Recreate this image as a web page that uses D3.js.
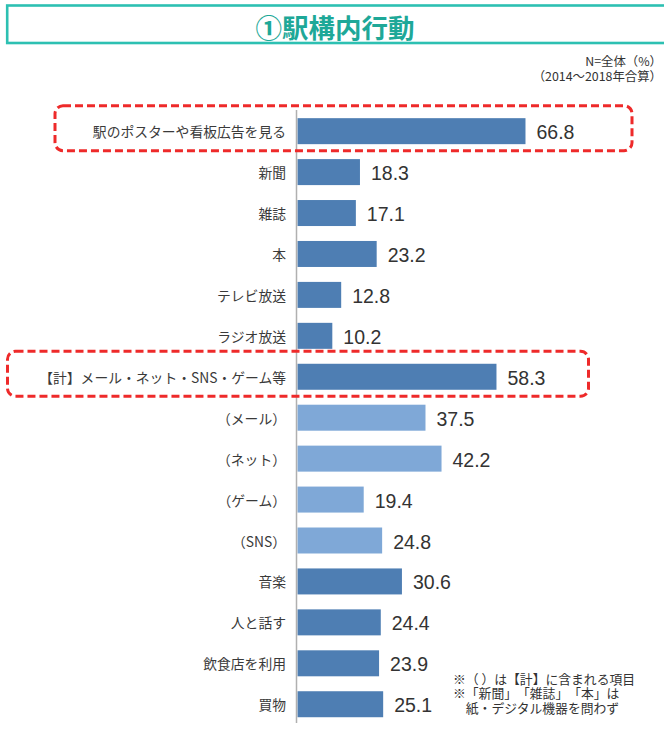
<!DOCTYPE html>
<html><head><meta charset="utf-8">
<script src="https://cdn.jsdelivr.net/npm/d3@7"></script>
<style>body{margin:0;background:#fff}svg{display:block}</style>
</head><body>
<svg id="c" width="664" height="742"></svg>
<script>
const categories = ["駅のポスターや看板広告を見る","新聞","雑誌","本","テレビ放送","ラジオ放送","【計】メール・ネット・SNS・ゲーム等","（メール）","（ネット）","（ゲーム）","（SNS）","音楽","人と話す","飲食店を利用","買物"];
const values = [66.8,18.3,17.1,23.2,12.8,10.2,58.3,37.5,42.2,19.4,24.8,30.6,24.4,23.9,25.1];
const subItem = [false,false,false,false,false,false,false,true,true,true,true,false,false,false,false];
const highlighted = ["駅のポスターや看板広告を見る","【計】メール・ネット・SNS・ゲーム等"];
const titleText = "①駅構内行動";
const noteTop = ["N=全体（%）","（2014～2018年合算）"];
const noteBottom = ["※（ ）は【計】に含まれる項目","※「新聞」「雑誌」「本」は","　紙・デジタル機器を問わず"];

const svg = d3.select("#c");
const font = "'Noto Sans CJK JP','Noto Sans',sans-serif";
const noTrim = s => s.style("text-spacing-trim","space-all");

// title box
svg.append("rect").attr("x",7.2).attr("y",5.5).attr("width",670).attr("height",37.5)
  .attr("fill","#fff").attr("stroke","#2dc0b2").attr("stroke-width",2.6);
svg.append("text").attr("x",335).attr("y",26).attr("text-anchor","middle").attr("dominant-baseline","central")
  .attr("font-family",font).attr("font-weight","bold").attr("font-size",26.5).attr("fill","#1ea898").call(noTrim).text(titleText);

svg.selectAll("text.nt").data(noteTop).enter().append("text").attr("class","nt")
  .attr("x",662).attr("y",(d,i)=>66+i*14.5).attr("text-anchor","end")
  .attr("font-family",font).attr("font-size",12.4).attr("fill","#333").call(noTrim).text(d=>d);

const x = d3.scaleLinear().domain([0,100]).range([297.5, 297.5+341.3]);
const y = d3.scaleBand().domain(categories).range([110.7,724.7]).paddingInner(0.365).paddingOuter(0.1825);

// bars
svg.selectAll("rect.bar").data(categories).enter().append("rect").attr("class","bar")
  .attr("x",x(0)).attr("y",d=>y(d)).attr("height",y.bandwidth())
  .attr("width",(d,i)=>x(values[i])-x(0))
  .attr("fill",(d,i)=>subItem[i]?"#7fa8d7":"#4e7eb3");

// axis line
svg.append("line").attr("x1",296.5).attr("x2",296.5).attr("y1",110).attr("y2",723)
  .attr("stroke","#b0b0b0").attr("stroke-width",1.5);

// category labels
svg.selectAll("text.cat").data(categories).enter().append("text").attr("class","cat")
  .attr("x",286).attr("y",d=>y(d)+y.bandwidth()/2).attr("text-anchor","end").attr("dominant-baseline","central")
  .attr("font-family",font).attr("font-size",13.8).attr("fill","#3a3a3a").call(noTrim).text(d=>d);

// value labels
svg.selectAll("text.val").data(categories).enter().append("text").attr("class","val")
  .attr("x",(d,i)=>x(values[i])+11).attr("y",d=>y(d)+y.bandwidth()/2+1).attr("dominant-baseline","central")
  .attr("font-family","'Liberation Sans',Arial,sans-serif").attr("font-size",19.5).attr("fill","#333")
  .text((d,i)=>values[i].toFixed(1));

// highlight boxes
const boxes = [{c:highlighted[0],x0:55,x1:632},{c:highlighted[1],x0:7.5,x1:588.5}];
svg.selectAll("rect.hl").data(boxes).enter().append("rect").attr("class","hl")
  .attr("x",d=>d.x0).attr("width",d=>d.x1-d.x0)
  .attr("y",d=>y(d.c)-12.5).attr("height",y.bandwidth()+25-6)
  .attr("rx",8).attr("ry",8).attr("fill","none").attr("stroke","#ee2a2a")
  .attr("stroke-width",3).attr("stroke-dasharray","8,4");

// footnotes
svg.selectAll("text.nb").data(noteBottom).enter().append("text").attr("class","nb")
  .attr("x",453).attr("y",(d,i)=>683.5+i*14.5)
  .attr("font-family",font).attr("font-size",12.8).attr("fill","#333").call(noTrim).text(d=>d);
</script>
</body></html>
